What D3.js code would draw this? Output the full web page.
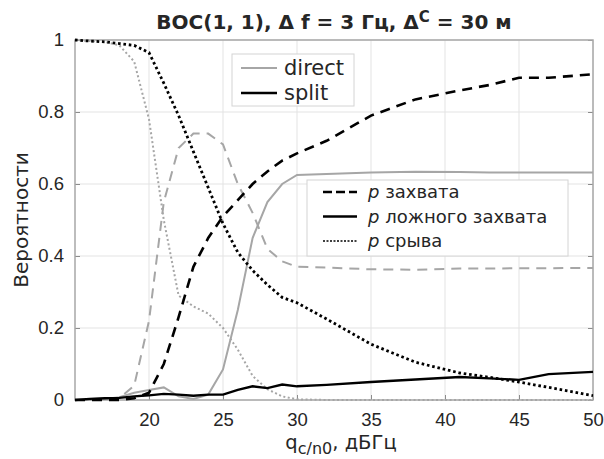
<!DOCTYPE html>
<html>
<head>
<meta charset="utf-8">
<script src="https://cdn.jsdelivr.net/npm/d3@7"></script>
<style>
    body { margin: 0; background: #fff; }
    svg { font-family: "DejaVu Sans", sans-serif; }
</style>
</head>
<body>
<svg id="chart" width="604" height="459"></svg>
<script>
// q_c/n0, dBHz
const qdB = [15, 16, 17, 18, 19, 20, 21, 22, 23, 24, 25, 26, 27, 28, 29, 30, 32, 35, 38, 41, 43, 45, 47, 50];

// split
const captSplit = [0, 0, 0, 0, 0.005, 0.02, 0.1, 0.23, 0.37, 0.45, 0.51, 0.555, 0.6, 0.635, 0.665, 0.685, 0.72, 0.79, 0.835, 0.86, 0.875, 0.895, 0.895, 0.905];
const falseSplit = [0, 0.003, 0.005, 0.006, 0.01, 0.013, 0.017, 0.015, 0.012, 0.015, 0.015, 0.028, 0.038, 0.033, 0.043, 0.038, 0.042, 0.05, 0.057, 0.064, 0.06, 0.056, 0.072, 0.078];
const lossSplit = [1, 0.997, 0.995, 0.99, 0.985, 0.965, 0.88, 0.79, 0.69, 0.59, 0.49, 0.41, 0.36, 0.32, 0.285, 0.27, 0.225, 0.155, 0.105, 0.075, 0.063, 0.05, 0.035, 0.012];

// direct
const captDirect = [0, 0, 0, 0.005, 0.04, 0.22, 0.55, 0.7, 0.74, 0.74, 0.71, 0.6, 0.52, 0.42, 0.385, 0.37, 0.368, 0.363, 0.362, 0.365, 0.365, 0.366, 0.366, 0.367];
const falseDirect = [0, 0, 0.003, 0.008, 0.02, 0.028, 0.035, 0.01, 0.003, 0.015, 0.085, 0.25, 0.45, 0.55, 0.6, 0.625, 0.628, 0.632, 0.634, 0.633, 0.632, 0.632, 0.632, 0.632];
const lossDirect = [1, 0.997, 0.995, 0.985, 0.94, 0.78, 0.5, 0.29, 0.26, 0.24, 0.2, 0.14, 0.067, 0.03, 0.01, 0.002, 0, 0, 0, 0, 0, 0, 0, 0];

const xTicks = [20, 25, 30, 35, 40, 45, 50];
const yTicks = [0, 0.2, 0.4, 0.6, 0.8, 1];
const typeNames = ["direct", "split"];
const probNames = ["захвата", "ложного захвата", "срыва"];

const margin = {top: 40, right: 11, bottom: 58, left: 75};
const width = 604, height = 459;
const GREY = "#a6a6a6", BLACK = "#000", TEXT = "#262626";

let svg = d3.select("#chart");

let x = d3.scaleLinear()
    .domain([15, 50])
    .range([margin.left, width - margin.right]);
let y = d3.scaleLinear()
    .domain([0, 1])
    .range([height - margin.bottom - 1, margin.top]);

// grid
svg.append("g")
    .selectAll("line.vg")
    .data(xTicks)
    .join("line")
    .attr("x1", d => x(d)).attr("x2", d => x(d))
    .attr("y1", y(0)).attr("y2", y(1))
    .attr("stroke", "#e3e3e3");
svg.append("g")
    .selectAll("line.hg")
    .data(yTicks)
    .join("line")
    .attr("x1", x(15)).attr("x2", x(50))
    .attr("y1", d => y(d)).attr("y2", d => y(d))
    .attr("stroke", "#e3e3e3");

// axes, ticks inward like matlab
svg.append("g")
    .attr("transform", `translate(0,${y(0)})`)
    .call(d3.axisBottom(x).tickValues(xTicks).tickSizeInner(-5).tickSizeOuter(0).tickPadding(13))
    .call(g => g.select(".domain").remove())
    .call(g => g.selectAll(".tick line").attr("stroke", "#8c8c8c"))
    .call(g => g.selectAll("text").attr("fill", TEXT).style("font-size", "18.5px"));
svg.append("g")
    .attr("transform", `translate(${x(15)},0)`)
    .call(d3.axisLeft(y).tickValues(yTicks).tickFormat(d3.format("~g")).tickSizeInner(-5).tickSizeOuter(0).tickPadding(11))
    .call(g => g.select(".domain").remove())
    .call(g => g.selectAll(".tick line").attr("stroke", "#8c8c8c"))
    .call(g => g.selectAll("text").attr("fill", TEXT).style("font-size", "18.5px"));
// right side ticks
svg.append("g")
    .attr("transform", `translate(${x(50)},0)`)
    .call(d3.axisRight(y).tickValues(yTicks).tickSizeInner(-5).tickSizeOuter(0).tickFormat(""))
    .call(g => g.select(".domain").remove())
    .call(g => g.selectAll(".tick line").attr("stroke", "#8c8c8c"));

svg.append("rect")
    .attr("x", x(15)).attr("y", y(1))
    .attr("width", x(50) - x(15)).attr("height", y(0) - y(1))
    .attr("fill", "none")
    .attr("stroke", "#a8a8a8")
    .attr("stroke-width", 1.5);

// curves
let line = d3.line()
    .x(d => x(d[0]))
    .y(d => y(d[1]));

const series = [
    {vals: captDirect, color: GREY, width: 2, dash: "10,7"},
    {vals: falseDirect, color: GREY, width: 2, dash: null},
    {vals: lossDirect, color: GREY, width: 2, dash: "2,2.5"},
    {vals: captSplit, color: BLACK, width: 2.6, dash: "10,7"},
    {vals: falseSplit, color: BLACK, width: 2.4, dash: null},
    {vals: lossSplit, color: BLACK, width: 2.8, dash: "2.6,2.8"}
];

svg.append("g")
    .selectAll("path")
    .data(series)
    .join("path")
    .attr("d", s => line(qdB.map((q, i) => [q, s.vals[i]])))
    .attr("fill", "none")
    .attr("stroke", s => s.color)
    .attr("stroke-width", s => s.width)
    .attr("stroke-dasharray", s => s.dash);

// legend: direct / split
let leg1 = svg.append("g").attr("transform", "translate(232,54)");
leg1.append("rect")
    .attr("width", 122).attr("height", 52)
    .attr("fill", "#fff").attr("stroke", "#d4d4d4");
leg1.selectAll("line")
    .data(typeNames)
    .join("line")
    .attr("x1", 9).attr("x2", 45)
    .attr("y1", (d, i) => 14 + i * 25).attr("y2", (d, i) => 14 + i * 25)
    .attr("stroke", (d, i) => i === 0 ? GREY : BLACK)
    .attr("stroke-width", (d, i) => i === 0 ? 2 : 2.4);
leg1.selectAll("text")
    .data(typeNames)
    .join("text")
    .attr("x", 52)
    .attr("y", (d, i) => 21 + i * 25)
    .attr("fill", TEXT)
    .style("font-size", "21px")
    .text(d => d);

// legend: probabilities
let leg2 = svg.append("g").attr("transform", "translate(307,180)");
leg2.append("rect")
    .attr("width", 261).attr("height", 76)
    .attr("fill", "#fff").attr("stroke", "#d4d4d4");
const legDash = ["9,4", null, "2,1.5"];
leg2.selectAll("line")
    .data(probNames)
    .join("line")
    .attr("x1", 16).attr("x2", 50)
    .attr("y1", (d, i) => 12 + i * 24.5).attr("y2", (d, i) => 12 + i * 24.5)
    .attr("stroke", BLACK)
    .attr("stroke-width", (d, i) => i === 2 ? 1.5 : 2.4)
    .attr("stroke-dasharray", (d, i) => legDash[i]);
let legText = leg2.selectAll("text")
    .data(probNames)
    .join("text")
    .attr("x", 61)
    .attr("y", (d, i) => 18 + i * 24.5)
    .attr("fill", TEXT)
    .style("font-size", "18px");
legText.append("tspan").attr("font-style", "italic").text("p");
legText.append("tspan").text(d => " " + d);

// title
let title = svg.append("text")
    .attr("x", 334)
    .attr("y", 29)
    .attr("text-anchor", "middle")
    .attr("font-weight", "bold")
    .attr("fill", TEXT)
    .style("font-size", "20px");
title.append("tspan").text("BOC(1, 1), Δ f = 3 Гц, Δ");
title.append("tspan").attr("dy", -7).style("font-size", "15px").text("C");
title.append("tspan").attr("dy", 7).text(" = 30 м");

// axis labels
let xlab = svg.append("text")
    .attr("x", 341)
    .attr("y", 449)
    .attr("text-anchor", "middle")
    .attr("fill", TEXT)
    .style("font-size", "19.5px");
xlab.append("tspan").text("q");
xlab.append("tspan").attr("dy", 5).style("font-size", "16px").text("c/n0");
xlab.append("tspan").attr("dy", -5).text(", дБГц");

svg.append("text")
    .attr("transform", `translate(28,${(y(0) + y(1)) / 2}) rotate(-90)`)
    .attr("text-anchor", "middle")
    .attr("fill", TEXT)
    .style("font-size", "20px")
    .text("Вероятности");
</script>
</body>
</html>
